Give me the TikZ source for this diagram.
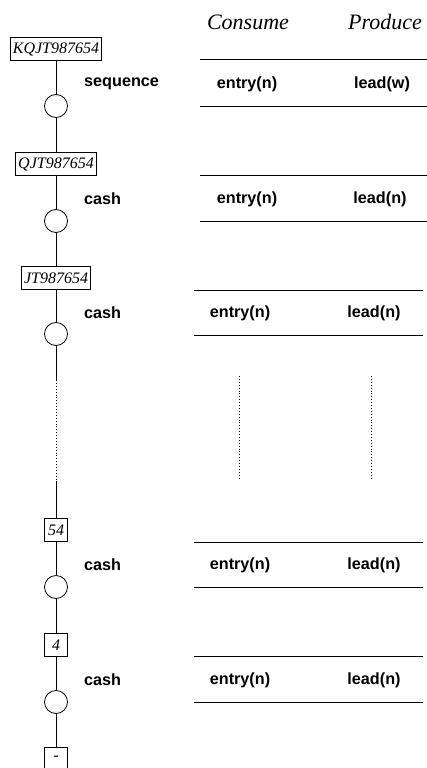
\documentclass[tikz,border=0pt]{standalone}
\usepackage{fontspec}
\setmainfont{Liberation Serif}
\newfontfamily\lblfont{Liberation Sans}
\newfontfamily\boxfont{Liberation Serif}
\begin{document}
\begin{tikzpicture}[x=1pt,y=-1pt,
  stackbox/.style={draw, line width=0.8pt, font=\boxfont\itshape\fontsize{16}{18}\selectfont, minimum height=22.5pt, minimum width=23pt, inner xsep=2.5pt, inner ysep=0pt},
  poscirc/.style={circle, draw, line width=0.8pt, minimum size=23pt, inner sep=0pt},
  lbl/.style={font=\lblfont\bfseries\fontsize{16.2}{18}\selectfont, anchor=west, inner sep=0pt},
  cell/.style={font=\lblfont\bfseries\fontsize{16.2}{18}\selectfont, inner sep=0pt},
  head/.style={font=\itshape\fontsize{22}{26}\selectfont, inner sep=0pt},
  spine/.style={line width=0.9pt},
  rule/.style={line width=1pt},
  dots/.style={line width=0.9pt, dotted}]
\useasboundingbox (0,0) rectangle (427,768);
% headers
\node[head] (hc) at (248,22) {Consume};
\node[head] (hp) at (385,22) {Produce};
% stack boxes
\node[stackbox] (b1) at (56,49) {KQJT987654};
\node[stackbox] (b2) at (56,164) {QJT987654};
\node[stackbox] (b3) at (56,278) {JT987654};
\node[stackbox] (b4) at (56,530) {54};
\node[stackbox] (b5) at (56,645) {4};
\node[stackbox] (b6) at (56,758.5) {-};
% circles
\node[poscirc] (c1) at (56,106) {};
\node[poscirc] (c2) at (56,221) {};
\node[poscirc] (c3) at (56,334) {};
\node[poscirc] (c4) at (56,587) {};
\node[poscirc] (c5) at (56,702) {};
% labels
\node[lbl] (l1) at (84,84) {sequence};
\node[lbl] (l2) at (84,199) {cash};
\node[lbl] (l3) at (84,313) {cash};
\node[lbl] (l4) at (84,565) {cash};
\node[lbl] (l5) at (84,680) {cash};
% spine
\coordinate (d1) at (56,380);
\coordinate (d2) at (56,481);
\draw[spine] (b1) -- (c1);
\draw[spine] (c1) -- (b2);
\draw[spine] (b2) -- (c2);
\draw[spine] (c2) -- (b3);
\draw[spine] (b3) -- (c3);
\draw[spine] (c3) -- (d1);
\draw[dots] (d1) -- (d2);
\draw[spine] (d2) -- (b4);
\draw[spine] (b4) -- (c4);
\draw[spine] (c4) -- (b5);
\draw[spine] (b5) -- (c5);
\draw[spine] (c5) -- (b6);
% table rows
\coordinate (r1a) at (200,60); \coordinate (r1b) at (427,60);
\coordinate (r1c) at (200,106); \coordinate (r1d) at (427,106);
\draw[rule] (r1a) -- (r1b); \draw[rule] (r1c) -- (r1d);
\node[cell] (e1) at (247,84) {entry(n)};
\node[cell] (p1) at (382,84) {lead(w)};
\coordinate (r2a) at (200,175); \coordinate (r2b) at (427,175);
\coordinate (r2c) at (200,221); \coordinate (r2d) at (427,221);
\draw[rule] (r2a) -- (r2b); \draw[rule] (r2c) -- (r2d);
\node[cell] (e2) at (247,199) {entry(n)};
\node[cell] (p2) at (380,199) {lead(n)};
\coordinate (r3a) at (194,290); \coordinate (r3b) at (423,290);
\coordinate (r3c) at (194,335); \coordinate (r3d) at (423,335);
\draw[rule] (r3a) -- (r3b); \draw[rule] (r3c) -- (r3d);
\node[cell] (e3) at (240,313) {entry(n)};
\node[cell] (p3) at (374,313) {lead(n)};
\coordinate (r4a) at (194,542); \coordinate (r4b) at (423,542);
\coordinate (r4c) at (194,587); \coordinate (r4d) at (423,587);
\draw[rule] (r4a) -- (r4b); \draw[rule] (r4c) -- (r4d);
\node[cell] (e4) at (240,565) {entry(n)};
\node[cell] (p4) at (374,565) {lead(n)};
\coordinate (r5a) at (194,656); \coordinate (r5b) at (423,656);
\coordinate (r5c) at (194,702); \coordinate (r5d) at (423,702);
\draw[rule] (r5a) -- (r5b); \draw[rule] (r5c) -- (r5d);
\node[cell] (e5) at (240,680) {entry(n)};
\node[cell] (p5) at (374,680) {lead(n)};
% dotted columns
\coordinate (v1a) at (239,376); \coordinate (v1b) at (239,478);
\coordinate (v2a) at (371,376); \coordinate (v2b) at (371,478);
\draw[dots] (v1a) -- (v1b);
\draw[dots] (v2a) -- (v2b);
\end{tikzpicture}
\end{document}
